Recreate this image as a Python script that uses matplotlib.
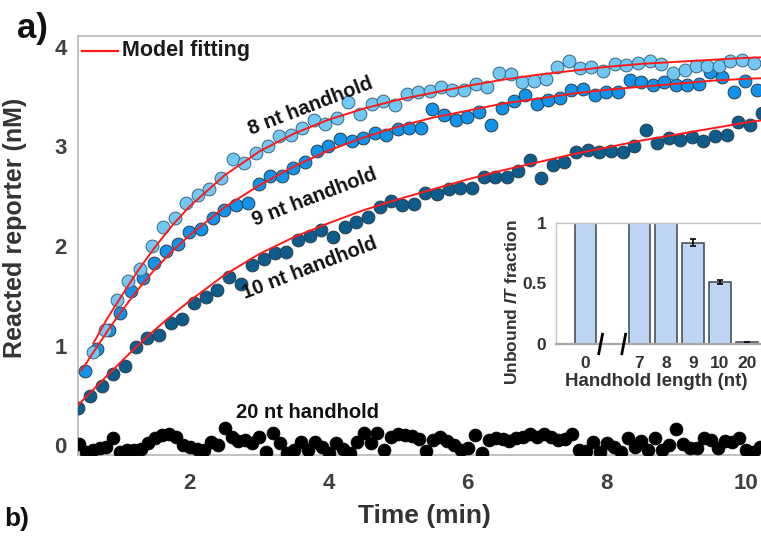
''' Strand displacement kinetics with handhold length, with inset of unbound fraction. '''

from matplotlib import pyplot as plt

plt.rcParams['font.family'] = ['Liberation Sans', 'DejaVu Sans']
plt.rcParams['font.weight'] = 'bold'
plt.rcParams['axes.labelweight'] = 'bold'
plt.rcParams['mathtext.fontset'] = 'custom'
plt.rcParams['mathtext.bfit'] = 'Liberation Sans:italic:bold'

# kinetics data (min, nM)
t8 = [0.61, 0.78, 0.95, 1.11, 1.28, 1.45, 1.62, 1.78, 1.95, 2.12,
	2.28, 2.45, 2.62, 2.78, 2.95, 3.12, 3.28, 3.45, 3.62, 3.78,
	3.95, 4.12, 4.28, 4.45, 4.62, 4.78, 4.95, 5.12, 5.28, 5.45,
	5.62, 5.78, 5.95, 6.12, 6.28, 6.45, 6.62, 6.78, 6.95, 7.12,
	7.28, 7.45, 7.62, 7.78, 7.95, 8.12, 8.28, 8.45, 8.62, 8.78,
	8.95, 9.12, 9.28, 9.45, 9.62, 9.78, 9.95, 10.12]
y8 = [0.93, 1.16, 1.46, 1.65, 1.77, 2.00, 2.19, 2.28, 2.43, 2.51,
	2.57, 2.68, 2.87, 2.83, 2.93, 3.00, 3.11, 3.12, 3.19, 3.27,
	3.23, 3.29, 3.45, 3.33, 3.43, 3.46, 3.42, 3.53, 3.55, 3.56,
	3.60, 3.57, 3.57, 3.63, 3.60, 3.74, 3.73, 3.65, 3.66, 3.68,
	3.80, 3.86, 3.79, 3.80, 3.76, 3.83, 3.82, 3.84, 3.86, 3.83,
	3.74, 3.77, 3.81, 3.81, 3.81, 3.86, 3.87, 3.84]

t9 = [0.49, 0.66, 0.83, 0.99, 1.16, 1.33, 1.49, 1.66, 1.83, 1.99,
	2.16, 2.33, 2.49, 2.66, 2.83, 2.99, 3.16, 3.33, 3.49, 3.66,
	3.83, 3.99, 4.16, 4.33, 4.49, 4.66, 4.83, 4.99, 5.16, 5.33,
	5.49, 5.66, 5.83, 5.99, 6.16, 6.33, 6.49, 6.66, 6.83, 6.99,
	7.16, 7.33, 7.49, 7.66, 7.83, 7.99, 8.16, 8.33, 8.49, 8.66,
	8.83, 8.99, 9.16, 9.33, 9.49, 9.66, 9.83, 9.99, 10.16]
y9 = [0.74, 0.97, 1.16, 1.33, 1.55, 1.68, 1.83, 1.95, 2.02, 2.14,
	2.17, 2.28, 2.36, 2.41, 2.43, 2.62, 2.70, 2.70, 2.78, 2.84,
	2.95, 3.00, 3.08, 3.06, 3.09, 3.14, 3.12, 3.18, 3.19, 3.19,
	3.38, 3.32, 3.27, 3.30, 3.35, 3.22, 3.39, 3.46, 3.52, 3.43,
	3.47, 3.49, 3.57, 3.58, 3.52, 3.55, 3.55, 3.67, 3.65, 3.62,
	3.65, 3.62, 3.62, 3.63, 3.75, 3.70, 3.55, 3.66, 3.57]

t10 = [0.39, 0.56, 0.73, 0.89, 1.06, 1.23, 1.39, 1.56, 1.73, 1.89,
	2.06, 2.23, 2.39, 2.56, 2.73, 2.89, 3.06, 3.23, 3.39, 3.56,
	3.73, 3.89, 4.06, 4.23, 4.39, 4.56, 4.73, 4.89, 5.06, 5.23,
	5.39, 5.56, 5.73, 5.89, 6.06, 6.23, 6.39, 6.56, 6.73, 6.89,
	7.06, 7.23, 7.39, 7.56, 7.73, 7.89, 8.06, 8.23, 8.39, 8.56,
	8.73, 8.89, 9.06, 9.23, 9.39, 9.56, 9.73, 9.89, 10.06, 10.23]
y10 = [0.37, 0.49, 0.59, 0.71, 0.79, 0.99, 1.08, 1.11, 1.23, 1.27,
	1.43, 1.49, 1.56, 1.69, 1.62, 1.81, 1.87, 1.93, 1.94, 2.06,
	2.10, 2.16, 2.09, 2.19, 2.24, 2.29, 2.39, 2.45, 2.41, 2.42,
	2.53, 2.52, 2.57, 2.58, 2.58, 2.69, 2.69, 2.69, 2.75, 2.86,
	2.68, 2.81, 2.84, 2.94, 2.96, 2.94, 2.95, 2.94, 3.00, 3.17,
	3.03, 3.09, 3.07, 3.10, 3.05, 3.11, 3.12, 3.25, 3.22, 3.34]

t20 = [0.4, 0.5, 0.6, 0.7, 0.8, 0.9, 1.0, 1.1, 1.2, 1.3,
	1.4, 1.5, 1.6, 1.7, 1.8, 1.9, 2.0, 2.1, 2.2, 2.3,
	2.4, 2.5, 2.6, 2.7, 2.8, 2.9, 3.0, 3.1, 3.2, 3.3,
	3.4, 3.5, 3.6, 3.7, 3.8, 3.9, 4.0, 4.1, 4.2, 4.3,
	4.4, 4.5, 4.6, 4.7, 4.8, 4.9, 5.0, 5.1, 5.2, 5.3,
	5.4, 5.5, 5.6, 5.7, 5.8, 5.9, 6.0, 6.1, 6.2, 6.3,
	6.4, 6.5, 6.6, 6.7, 6.8, 6.9, 7.0, 7.1, 7.2, 7.3,
	7.4, 7.5, 7.6, 7.7, 7.8, 7.9, 8.0, 8.1, 8.2, 8.3,
	8.4, 8.5, 8.6, 8.7, 8.8, 8.9, 9.0, 9.1, 9.2, 9.3,
	9.4, 9.5, 9.6, 9.7, 9.8, 9.9, 10.0, 10.1, 10.2]
y20 = [0.01, -0.07, -0.05, -0.03, -0.02, 0.07, -0.07, -0.05, -0.05, -0.04,
	0.02, 0.07, 0.10, 0.11, 0.08, 0.00, -0.02, -0.04, -0.05, 0.03,
	0.00, 0.17, 0.08, 0.04, 0.05, 0.02, 0.08, -0.07, 0.12, 0.02,
	-0.08, -0.05, 0.03, -0.05, 0.03, -0.02, -0.08, 0.02, -0.04, -0.08,
	0.03, 0.12, 0.02, 0.12, -0.05, 0.08, 0.11, 0.10, 0.09, 0.06,
	-0.06, 0.05, 0.08, 0.04, 0.00, -0.05, -0.03, 0.10, -0.08, 0.05,
	0.07, 0.06, 0.04, 0.07, 0.08, 0.11, 0.08, 0.11, 0.08, 0.05,
	0.06, 0.11, -0.05, -0.06, 0.03, -0.07, 0.02, -0.02, -0.07, 0.07,
	-0.02, 0.04, -0.05, 0.07, -0.05, 0.00, 0.16, 0.01, -0.03, -0.03,
	0.07, 0.05, -0.03, 0.04, 0.03, 0.07, -0.05, -0.07, -0.02]

# model fitting curves
fit8_t = [0.61, 0.8, 1.0, 1.25, 1.5, 1.75, 2.0, 2.5, 3.0, 3.5, 4.0, 4.5,
	5.0, 5.5, 6.0, 6.5, 7.0, 7.5, 8.0, 8.5, 9.0, 9.5, 10.0, 10.4]
fit8_y = [1.02, 1.26, 1.48, 1.75, 1.99, 2.21, 2.40, 2.71, 2.95, 3.13, 3.27, 3.38,
	3.47, 3.54, 3.61, 3.67, 3.72, 3.76, 3.80, 3.83, 3.85, 3.87, 3.89, 3.90]
fit9_t = [0.44, 0.6, 0.8, 1.0, 1.25, 1.5, 1.75, 2.0, 2.5, 3.0, 3.5, 4.0,
	4.5, 5.0, 5.5, 6.0, 6.5, 7.0, 7.5, 8.0, 8.5, 9.0, 9.5, 10.0, 10.4]
fit9_y = [0.75, 0.92, 1.13, 1.33, 1.56, 1.77, 1.95, 2.11, 2.39, 2.61, 2.80, 2.96,
	3.09, 3.20, 3.29, 3.36, 3.43, 3.48, 3.53, 3.57, 3.60, 3.63, 3.66, 3.68, 3.69]
fit10_t = [0.39, 0.6, 0.8, 1.0, 1.25, 1.5, 1.75, 2.0, 2.5, 3.0, 3.5, 4.0,
	4.5, 5.0, 5.5, 6.0, 6.5, 7.0, 7.5, 8.0, 8.5, 9.0, 9.5, 10.0, 10.4]
fit10_y = [0.40, 0.55, 0.69, 0.83, 1.00, 1.16, 1.31, 1.45, 1.71, 1.92, 2.09, 2.23,
	2.36, 2.47, 2.57, 2.67, 2.76, 2.84, 2.92, 2.99, 3.06, 3.12, 3.18, 3.24, 3.28]

# inset: unbound IT fraction
hh_labels = ['0', '7', '8', '9', '10', '20']
hh_pos = [0, 2, 3, 4, 5, 6]
unbound = [1.0, 1.0, 1.0, 0.835, 0.51, 0.015]
unbound_err = [0.003, 0.003, 0.003, 0.027, 0.018, 0.003]

W, H = 761.0, 536.0
fig = plt.figure(figsize=(W/100, H/100), dpi=100)

# main axes placed in pixels: left 78, right 770, top 36, bottom 455
ax = fig.add_axes([78/W, 1-455/H, (770-78)/W, (455-36)/H])
ax.set_xlim(0.39, 10.35)
ax.set_ylim(-0.10, 4.11)

edge = '#2d3e4a'
ax.scatter(t20, y20, s=85, color='black', edgecolors='black', linewidths=0.6, zorder=3)
ax.scatter(t10, y10, s=85, color='#0d5c8c', edgecolors=edge, linewidths=0.7, zorder=3)
ax.scatter(t9, y9, s=85, color='#1293ea', edgecolors=edge, linewidths=0.7, zorder=3)
ax.scatter(t8, y8, s=85, color='#72c8f2', edgecolors='#3a6680', linewidths=0.7, zorder=3)
for ft, fy in [(fit8_t, fit8_y), (fit9_t, fit9_y), (fit10_t, fit10_y)]:
	ax.plot(ft, fy, color='#ff1a1a', lw=1.4, zorder=4)

spine_col = '#bcbcbc'
for side in ['left', 'top', 'bottom', 'right']:
	ax.spines[side].set_color(spine_col)
	ax.spines[side].set_linewidth(1.3)
ax.set_xticks([2, 4, 6, 8, 10])
ax.set_yticks([0, 1, 2, 3, 4])
ax.tick_params(length=0, labelsize=16, labelcolor='#404040', pad=8)
ax.tick_params(axis='x', pad=13)
for tl in ax.get_xticklabels() + ax.get_yticklabels():
	tl.set_fontweight('bold')
ax.set_xlabel('Time (min)', fontsize=19, fontweight='bold', color='#333333', labelpad=7)

# legend drawn by hand so it sits at the top left corner
ax.plot([0.45, 0.97], [3.96, 3.96], color='#ff1a1a', lw=1.6, clip_on=False, zorder=5)
ax.text(1.02, 3.96, 'Model fitting', fontsize=15.5, fontweight='bold', color='#1a1a1a', va='center')

lab = dict(fontsize=14.5, fontweight='bold', color='#111111', ha='center', va='center')
ax.text(3.74, 3.40, '8 nt handhold', rotation=21, **lab)
ax.text(3.80, 2.49, '9 nt handhold', rotation=21, **lab)
ax.text(3.73, 1.78, '10 nt handhold', rotation=21, **lab)
ax.text(3.70, 0.33, '20 nt handhold', rotation=0, **lab)

fig.text(27/W, 1-228/H, 'Reacted reporter (nM)', rotation=90, fontsize=18, fontweight='bold',
	color='#333333', ha='right', va='center')
fig.text(17/W, 1-38/H, 'a)', fontsize=25, fontweight='bold', color='#111111', va='baseline')
fig.text(4/W, 1-507/H, 'b)', fontsize=19, fontweight='bold', color='#111111', va='top')

# inset bar chart
ins = fig.add_axes([556/W, 1-344/H, (775-556)/W, (344-222.7)/H])
ins.bar(hh_pos, unbound, width=0.8, color='#bed6f3', edgecolor='#3c4650', linewidth=1.1,
	yerr=unbound_err, capsize=2.5, error_kw=dict(ecolor='black', elinewidth=1.2, capthick=1.2), zorder=2)
ins.set_xlim(-1.1, 7.05)
ins.set_ylim(0, 1)
ins.set_xticks(hh_pos)
ins.set_xticklabels(hh_labels)
ins.set_yticks([0, 0.5, 1])
ins.set_yticklabels(['0', '0.5', '1'])
ins.tick_params(length=0, labelsize=12.5, labelcolor='#333333', pad=9)
ins.tick_params(axis='y', pad=7)
for tl in ins.get_xticklabels() + ins.get_yticklabels():
	tl.set_fontweight('bold')
for side in ['left', 'top', 'right']:
	ins.spines[side].set_color('#c4c4c4')
	ins.spines[side].set_linewidth(1.0)
ins.spines['bottom'].set_color('#a8a8a8')
ins.spines['bottom'].set_linewidth(1.6)
ins.set_xlabel('Handhold length (nt)', fontsize=13.5, fontweight='bold', color='#333333')
ins.xaxis.set_label_coords((656-556)/(775-556), -(382-344)/121.3, transform=ins.transAxes)
ins.set_ylabel(r'Unbound $\mathbfit{IT}$ fraction', fontsize=12.5, fontweight='bold', color='#333333')
ins.yaxis.set_label_coords(-(556-512)/(775-556), -(302-344)/121.3, transform=ins.transAxes)
ins.xaxis.label.set_va('center')
ins.yaxis.label.set_va('center')
# axis break marks between 0 and 7
for bx in [0.56, 1.42]:
	ins.plot([bx - 0.07, bx + 0.07], [-0.08, 0.08], color='black', lw=2.0, clip_on=False, zorder=5)

fig.savefig('out.png', dpi=100)
